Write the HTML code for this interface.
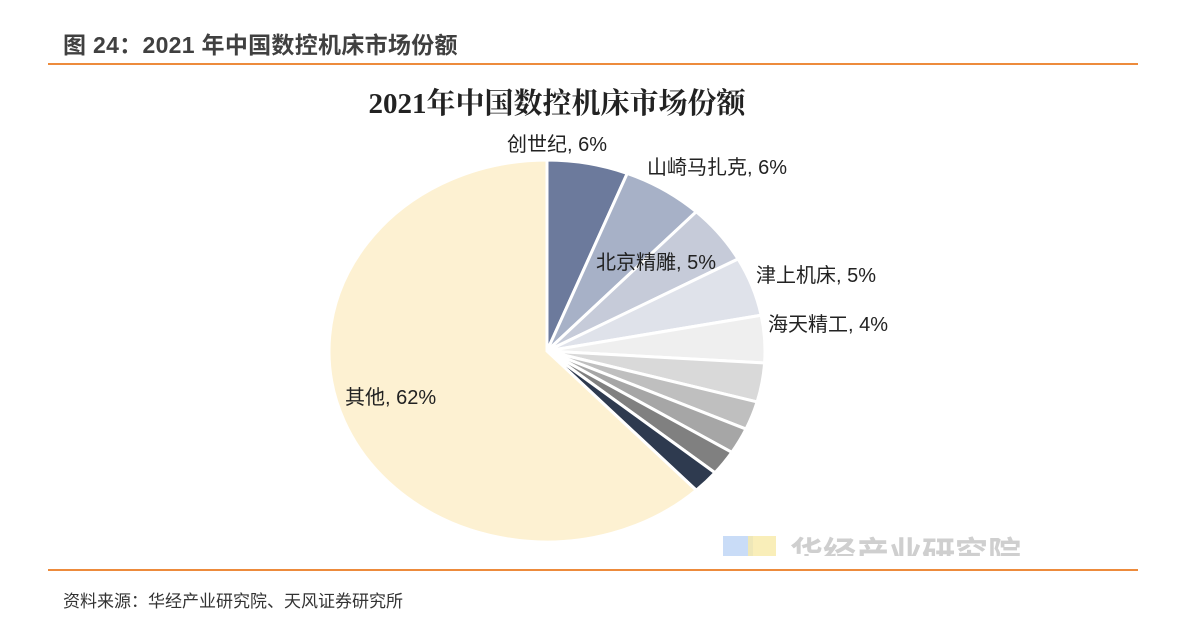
<!DOCTYPE html>
<html><head><meta charset="utf-8"><style>
body{margin:0;width:1186px;height:632px;background:#fff;font-family:"Liberation Sans","Noto Sans CJK SC",sans-serif;overflow:hidden;position:relative}
.t{position:absolute;left:63px;top:26px;font-size:23px;color:#404040;font-weight:bold;letter-spacing:0.3px}
.l1{position:absolute;left:48px;top:63px;width:1090px;height:2px;background:#ed8b3c}
.l2{position:absolute;left:48px;top:569px;width:1090px;height:2px;background:#ed8b3c}
.src{position:absolute;left:63px;top:587px;font-size:17px;color:#333}
</style></head><body>
<div class="t">图 24：2021 年中国数控机床市场份额</div>
<div class="l1"></div>
<svg width="1186" height="632" style="position:absolute;left:0;top:0">
<text x="557" y="113" text-anchor="middle" font-size="29" font-weight="bold" fill="#222" font-family="Liberation Serif,Noto Serif CJK SC,serif">2021年中国数控机床市场份额</text>
<g id="slices"></g>
<g id="labels" font-size="20" fill="#222"></g>
<rect x="723" y="536" width="30" height="20" fill="#bcd3f5" opacity="0.8"/>
<rect x="748" y="536" width="28" height="20" fill="#f8eaa8" opacity="0.8"/>
<svg x="0" y="0" width="1186" height="556"><text x="790" y="565" font-size="33" fill="#cfcfcf" font-weight="bold">华经产业研究院</text></svg>
</svg>
<div class="l2"></div>
<div class="src">资料来源：华经产业研究院、天风证券研究所</div>
<script>
const categories=["创世纪","山崎马扎克","北京精雕","津上机床","海天精工","A","B","C","D","E","其他"];
const values=[6,6,5,5,4,3.3,2.4,2.2,2.1,2.0,62];
const labels=["创世纪, 6%","山崎马扎克, 6%","北京精雕, 5%","津上机床, 5%","海天精工, 4%","","","","","","其他, 62%"];
const colors=["#6c7a9c","#a7b1c7","#c6cbd9","#dfe2ea","#efefef","#d9d9d9","#bfbfbf","#a6a6a6","#808080","#2e3a4f","#fdf1d2"];
const labelPos=[[507,151],[647,174],[596,269],[756,282],[768,331],null,null,null,null,null,[345,404]];
const cx=547,cy=351,rx=218,ry=191;
const ns="http://www.w3.org/2000/svg";
const g=document.getElementById('slices'),lg=document.getElementById('labels');
const tot=values.reduce((a,b)=>a+b,0);
function pt(a){return [cx+rx*Math.sin(a),cy-ry*Math.cos(a)];}
let a0=0;
values.forEach((v,i)=>{
 const a1=a0+v/tot*2*Math.PI;
 const p0=pt(a0),p1=pt(a1);
 const p=document.createElementNS(ns,'path');
 p.setAttribute('d',`M${cx},${cy}L${p0[0]},${p0[1]}A${rx},${ry} 0 ${a1-a0>Math.PI?1:0} 1 ${p1[0]},${p1[1]}Z`);
 p.setAttribute('fill',colors[i]);p.setAttribute('stroke','#fff');p.setAttribute('stroke-width','3');
 
 
 g.appendChild(p);
 if(labels[i]){
  const t=document.createElementNS(ns,'text');
  t.setAttribute('x',labelPos[i][0]);t.setAttribute('y',labelPos[i][1]);
  t.textContent=labels[i];
  
  
  lg.appendChild(t);
 }
 a0=a1;
});
</script>
</body></html>
